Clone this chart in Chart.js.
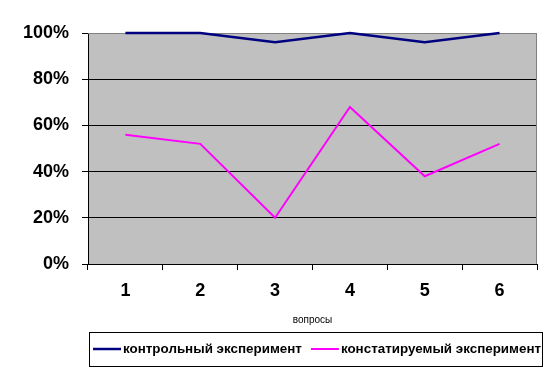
<!DOCTYPE html>
<html>
<head>
  <title>вопросы</title>
  <script src="https://cdn.jsdelivr.net/npm/chart.js"></script>
  <style>
    html, body { margin: 0; padding: 0; background: #fff; }
    #wrap { width: 554px; height: 374px; }
  </style>
</head>
<body>
  <div id="wrap"><canvas id="chart" width="554" height="374"></canvas></div>

  <script>
    var questions = ['1', '2', '3', '4', '5', '6'];
    var controlValues = [100, 100, 96, 100, 96, 100];
    var statedValues = [56, 52, 20, 68, 38, 52];
    var seriesNames = ['контрольный эксперимент', 'констатируемый эксперимент'];
    var yTicks = [0, 20, 40, 60, 80, 100];

    // grey plot background + grey top/right frame
    var plotBack = {
      id: 'plotBack',
      beforeDraw: function (chart) {
        var a = chart.chartArea, c = chart.ctx;
        c.save();
        c.fillStyle = '#c0c0c0';
        c.fillRect(a.left, a.top, a.right - a.left, a.bottom - a.top);
        c.restore();
      },
      beforeDatasetsDraw: function (chart) {
        var a = chart.chartArea, c = chart.ctx;
        c.save();
        c.strokeStyle = '#808080';
        c.lineWidth = 1;
        c.beginPath();
        c.moveTo(a.left, a.top + 0.5);
        c.lineTo(a.right - 0.5, a.top + 0.5);
        c.lineTo(a.right - 0.5, a.bottom);
        c.stroke();
        c.restore();
      }
    };

    // boxed legend under the chart
    var boxLegend = {
      id: 'boxLegend',
      afterDraw: function (chart) {
        var c = chart.ctx;
        c.save();
        c.font = 'bold 13.4px Arial, "Liberation Sans", sans-serif';
        c.textBaseline = 'middle';
        var x = 93, y = 349;
        chart.data.datasets.forEach(function (ds, i) {
          c.strokeStyle = ds.borderColor;
          c.lineWidth = ds.borderWidth;
          c.beginPath();
          c.moveTo(x, y);
          c.lineTo(x + 28, y);
          c.stroke();
          x += 30;
          c.fillStyle = '#000';
          c.fillText(ds.label, x, y);
          x += c.measureText(ds.label).width + 9;
        });
        c.strokeStyle = '#000';
        c.lineWidth = 1;
        c.strokeRect(89.5, 332.5, 453, 34);
        c.restore();
      }
    };

    var ctx = document.getElementById('chart').getContext('2d');
    var chart = new Chart(ctx, {
      type: 'line',
      data: {
        labels: questions,
        datasets: [
          {
            label: seriesNames[0],
            borderColor: '#000080',
            backgroundColor: '#000080',
            borderWidth: 2.5,
            pointRadius: 0,
            tension: 0,
            fill: false,
            clip: 4,
            data: controlValues
          },
          {
            label: seriesNames[1],
            borderColor: '#ff00ff',
            backgroundColor: '#ff00ff',
            borderWidth: 2,
            pointRadius: 0,
            tension: 0,
            fill: false,
            clip: 4,
            data: statedValues
          }
        ]
      },
      options: {
        responsive: false,
        animation: false,
        layout: { padding: { left: 0, right: 17, top: 33, bottom: 48 } },
        plugins: {
          legend: { display: false },
          tooltip: { enabled: false }
        },
        scales: {
          x: {
            offset: true,
            grid: { offset: true, drawOnChartArea: false, drawTicks: true, tickLength: 6, color: '#000' },
            border: { color: '#000', width: 1 },
            ticks: { color: '#000', padding: 10, font: { family: 'Arial, "Liberation Sans", sans-serif', size: 18, weight: 'bold' } },
            title: {
              display: true,
              text: 'вопросы',
              color: '#000',
              padding: { top: 0, bottom: 0 },
              font: { family: 'Arial, "Liberation Sans", sans-serif', size: 10 }
            },
            afterFit: function (s) { s.height = 62; }
          },
          y: {
            min: 0,
            max: 100,
            afterBuildTicks: function (s) { s.ticks = yTicks.map(function (v) { return { value: v }; }); },
            grid: {
              color: function (g) { return g.tick && g.tick.value === 100 ? '#808080' : '#000'; },
              tickColor: '#000',
              tickLength: 6
            },
            border: { color: '#000', width: 1 },
            ticks: {
              color: '#000',
              padding: 13,
              font: { family: 'Arial, "Liberation Sans", sans-serif', size: 18, weight: 'bold' },
              callback: function (v) { return v + '%'; }
            },
            afterFit: function (s) { s.width = 88; }
          }
        }
      },
      plugins: [plotBack, boxLegend]
    });
  </script>
</body>
</html>
